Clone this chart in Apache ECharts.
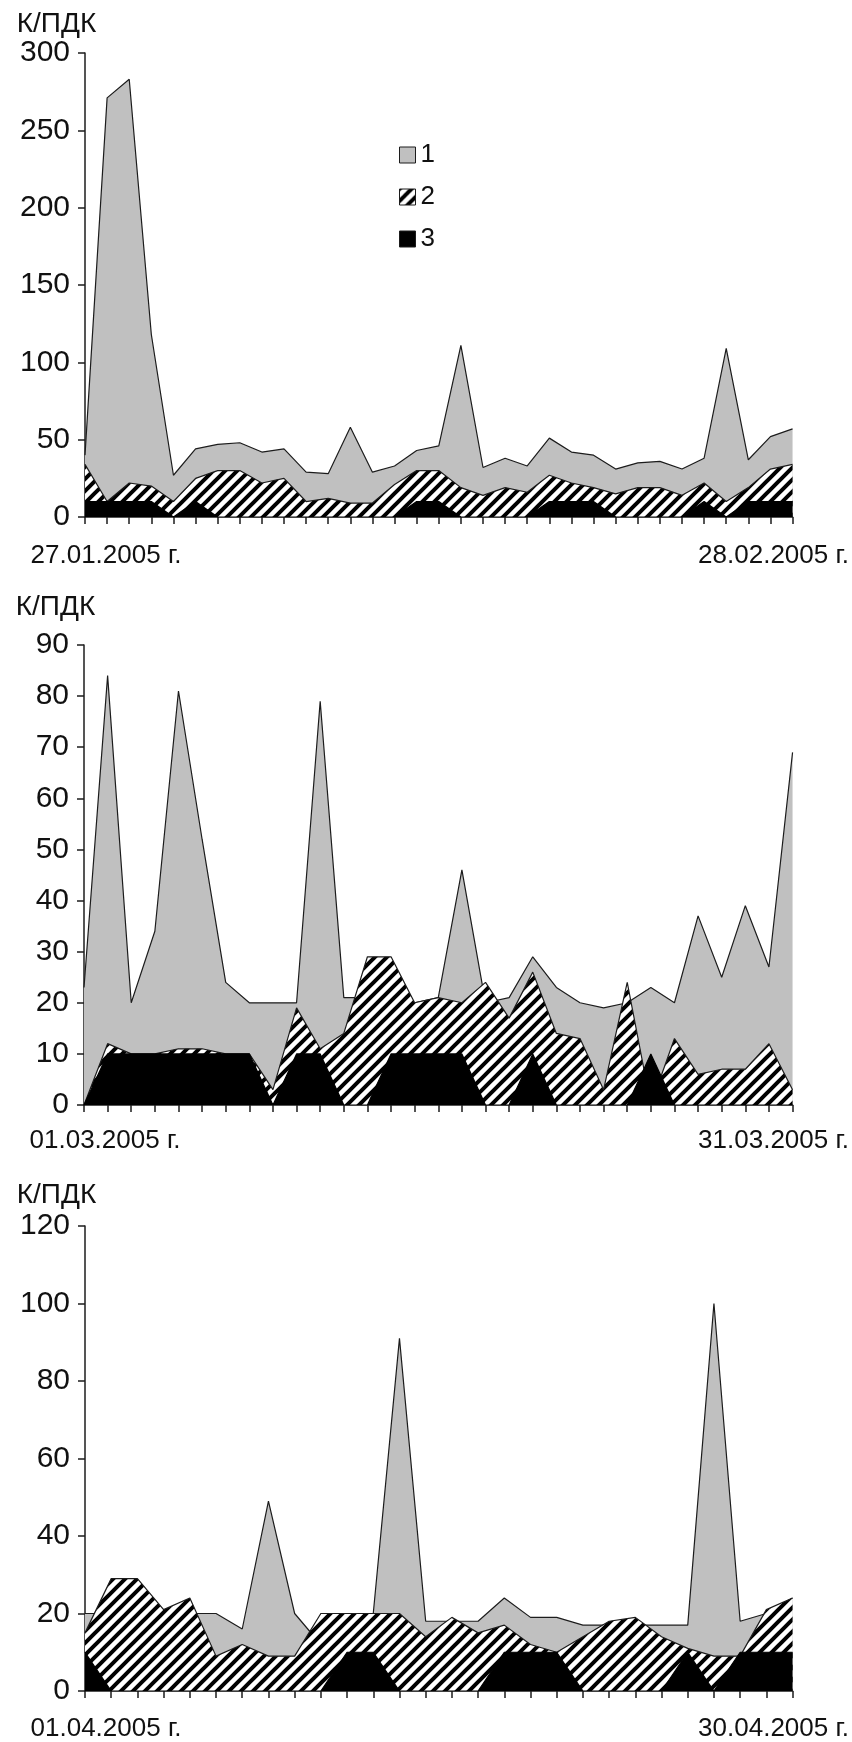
<!DOCTYPE html>
<html lang="ru">
<head>
<meta charset="utf-8">
<title>К/ПДК</title>
<script src="https://cdn.jsdelivr.net/npm/echarts@6/dist/echarts.min.js"></script>
<style>
  html, body { margin: 0; padding: 0; background: #fff; }
  #chart { width: 852px; height: 1742px; }
</style>
</head>
<body>
<div id="chart"></div>
<script>
// ----------------------
// Dados
// ----------------------
const days1 = ['27.01','28.01','29.01','30.01','31.01','01.02','02.02','03.02','04.02','05.02','06.02',
  '07.02','08.02','09.02','10.02','11.02','12.02','13.02','14.02','15.02','16.02','17.02','18.02',
  '19.02','20.02','21.02','22.02','23.02','24.02','25.02','26.02','27.02','28.02'];
const days2 = ['01.03','02.03','03.03','04.03','05.03','06.03','07.03','08.03','09.03','10.03','11.03',
  '12.03','13.03','14.03','15.03','16.03','17.03','18.03','19.03','20.03','21.03','22.03','23.03',
  '24.03','25.03','26.03','27.03','28.03','29.03','30.03','31.03'];
const days3 = ['01.04','02.04','03.04','04.04','05.04','06.04','07.04','08.04','09.04','10.04','11.04',
  '12.04','13.04','14.04','15.04','16.04','17.04','18.04','19.04','20.04','21.04','22.04','23.04',
  '24.04','25.04','26.04','27.04','30.04'];

const ends1 = ['27.01.2005 г.', '28.02.2005 г.'];
const ends2 = ['01.03.2005 г.', '31.03.2005 г.'];
const ends3 = ['01.04.2005 г.', '30.04.2005 г.'];

const jan1 = [40,271,283,118,27,44,47,48,42,44,29,28,58,29,33,43,46,111,32,38,33,51,42,40,31,35,36,31,38,109,37,52,57];
const jan2 = [34,10,22,20,10,25,30,30,22,25,10,12,9,9,21,30,30,19,14,19,16,27,22,19,15,19,19,14,22,10,19,31,34];
const jan3 = [10,10,10,10,0,10,0,0,0,0,0,0,0,0,0,10,10,0,0,0,0,10,10,10,0,0,0,0,10,0,10,10,10];

const mar1 = [23,84,20,34,81,52,24,20,20,20,79,21,21,21,20,21,46,20,21,29,23,20,19,20,23,20,37,25,39,27,69];
const mar2 = [0,12,10,10,11,11,10,10,3,19,11,14,29,29,20,21,20,24,17,26,14,13,3,24,0,13,6,7,7,12,3];
const mar3 = [0,10,10,10,10,10,10,10,0,10,10,0,0,10,10,10,10,0,0,10,0,0,0,0,10,0,0,0,0,0,0];

const apr1 = [20,20,20,20,20,20,16,49,20,12,20,20,91,18,18,18,24,19,19,17,17,17,17,17,100,18,20,24];
const apr2 = [15,29,29,21,24,9,12,9,9,20,20,20,20,14,19,15,17,12,10,14,18,19,14,11,9,9,21,24];
const apr3 = [10,0,0,0,0,0,0,0,0,0,10,10,0,0,0,0,10,10,10,0,0,0,0,10,0,10,10,10];

const yMax = [300, 90, 120];
const yStep = [50, 10, 20];

// ----------------------
// Estilos
// ----------------------
const COLOR_GRAY = '#c0c0c0';
const COLOR_LINE = '#1c1c1c';
const COLOR_TEXT = '#111';
const FONT = '"Liberation Sans", Arial, sans-serif';

// hachura diagonal "/" preta sobre branco
function hatchCanvas() {
  const c = document.createElement('canvas');
  c.width = 12; c.height = 12;
  const g = c.getContext('2d');
  g.fillStyle = '#fff';
  g.fillRect(0, 0, 12, 12);
  g.strokeStyle = '#000';
  g.lineWidth = 4;
  g.beginPath();
  g.moveTo(-3, 15); g.lineTo(15, -3);
  g.moveTo(-3, 3); g.lineTo(3, -3);
  g.moveTo(9, 15); g.lineTo(15, 9);
  g.stroke();
  return c;
}
const HATCH = { image: hatchCanvas(), repeat: 'repeat' };

// ----------------------
// Montagem dos eixos e séries
// ----------------------
const grids = [
  { left: 85, top: 53, width: 711, height: 464 },
  { left: 84, top: 645, width: 717, height: 460 },
  { left: 85, top: 1226, width: 717, height: 466 }
];
const cats = [days1, days2, days3];
const ends = [ends1, ends2, ends3];
const labelMargin = [26, 23, 25];
const nameGap = [13, 24, 17];
const data = [[jan1, jan2, jan3], [mar1, mar2, mar3], [apr1, apr2, apr3]];

function xAxisFor(i) {
  const last = cats[i].length - 1;
  return {
    type: 'category',
    gridIndex: i,
    data: cats[i],
    boundaryGap: false,
    axisLine: { lineStyle: { color: COLOR_LINE, width: 1.5 } },
    axisTick: { show: true, interval: 0, length: 7, lineStyle: { color: COLOR_LINE, width: 1.5 } },
    axisLabel: {
      interval: (idx) => idx === 0 || idx === last,
      margin: labelMargin[i],
      formatter: (v, idx) => idx === 0 ? '{l|' + ends[i][0] + '}' : '{r|' + ends[i][1] + '}',
      rich: {
        l: { fontSize: 26, fontFamily: FONT, color: COLOR_TEXT, padding: [0, 0, 0, 42] },
        r: { fontSize: 26, fontFamily: FONT, color: COLOR_TEXT, padding: [0, 38, 0, 0] }
      }
    },
    splitLine: { show: false }
  };
}

function yAxisFor(i) {
  return {
    type: 'value',
    gridIndex: i,
    min: 0,
    max: yMax[i],
    interval: yStep[i],
    name: 'К/ПДК',
    nameLocation: 'end',
    nameGap: nameGap[i],
    nameTextStyle: { fontSize: 28, fontFamily: FONT, color: COLOR_TEXT, align: 'center', padding: [0, 57, 0, 0] },
    axisLine: { show: true, lineStyle: { color: COLOR_LINE, width: 1.5 } },
    axisTick: { show: true, length: 7, lineStyle: { color: COLOR_LINE, width: 1.5 } },
    axisLabel: { fontSize: 30, fontFamily: FONT, color: COLOR_TEXT, margin: 15 },
    splitLine: { show: false }
  };
}

// séries sobrepostas (não empilhadas): cinza atrás, hachura no meio, preto na frente
function areaSeries(name, i, values, fill, line, z) {
  return {
    name: name,
    type: 'line',
    xAxisIndex: i,
    yAxisIndex: i,
    z: z,
    data: values,
    symbol: 'none',
    lineStyle: { color: line, width: 1.2 },
    itemStyle: { color: fill },
    areaStyle: { color: fill, opacity: 1 },
    emphasis: { disabled: true }
  };
}

const series = [];
data.forEach((d, i) => {
  series.push(areaSeries('1', i, d[0], COLOR_GRAY, COLOR_LINE, 2));
  series.push(areaSeries('2', i, d[1], HATCH, COLOR_LINE, 3));
  series.push(areaSeries('3', i, d[2], '#000', '#000', 4));
});

// ----------------------
// Inicialização
// ----------------------
const chart = echarts.init(document.getElementById('chart'));
chart.setOption({
  animation: false,
  backgroundColor: '#fff',
  grid: grids,
  xAxis: [0, 1, 2].map(xAxisFor),
  yAxis: [0, 1, 2].map(yAxisFor),
  legend: {
    orient: 'vertical',
    left: 394,
    top: 137,
    itemWidth: 16,
    itemHeight: 16,
    itemGap: 16,
    icon: 'rect',
    textStyle: { fontSize: 26, fontFamily: FONT, color: COLOR_TEXT },
    itemStyle: { borderColor: COLOR_LINE, borderWidth: 1 },
    data: [
      { name: '1', itemStyle: { color: COLOR_GRAY } },
      { name: '2', itemStyle: { color: HATCH } },
      { name: '3', itemStyle: { color: '#000' } }
    ]
  },
  series: series
});

window.addEventListener('resize', () => chart.resize());
</script>
</body>
</html>
